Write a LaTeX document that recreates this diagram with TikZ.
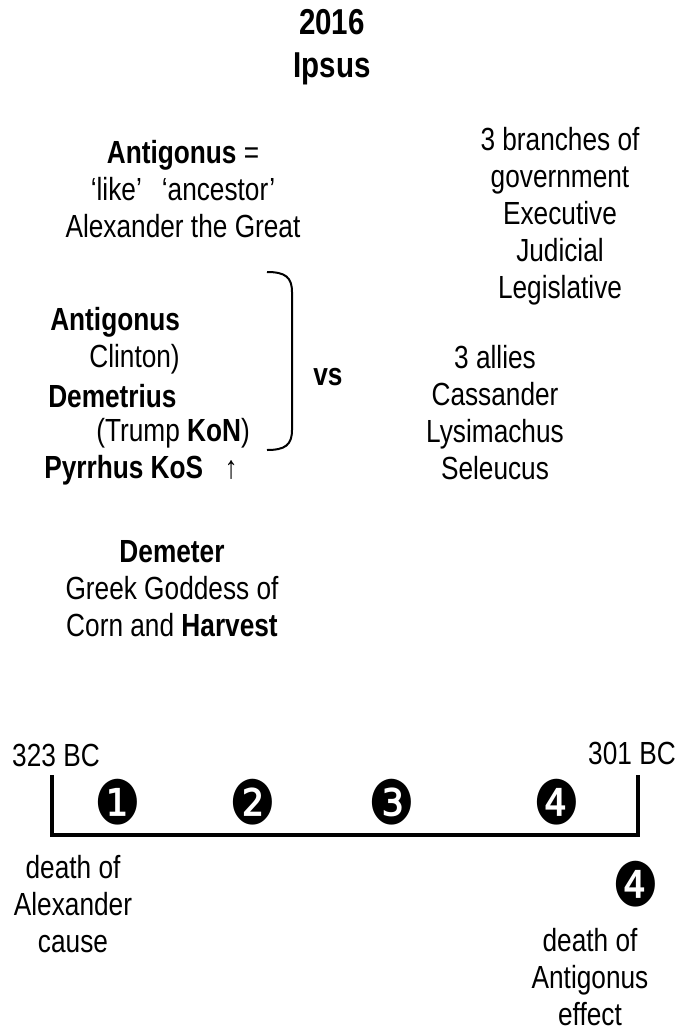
\documentclass[tikz,border=0pt]{standalone}
\usepackage{fontspec}
\setmainfont{Liberation Sans}[FakeStretch=0.82]
\newfontfamily\dingfont{DejaVu Sans}[FakeStretch=0.85]
\tikzset{
  txt/.style={inner sep=0pt, align=center, font=\fontsize{24}{27.75}\selectfont},
  ttl/.style={inner sep=0pt, align=center, font=\fontsize{27}{32.25}\selectfont\bfseries},
  num/.style={inner sep=0pt, font=\fontsize{46}{46}\dingfont},
}
\begin{document}
\begin{tikzpicture}[x=0.75pt,y=0.75pt,yscale=-1]
\useasboundingbox (0,0) rectangle (693,1032);

\draw (332,47) node (title) [ttl] {2016\\Ipsus};

\draw (183,189) node (like) [txt] {\textbf{Antigonus} =\\‘like’\hspace{15pt}‘ancestor’\\Alexander the Great};
\draw (560,216) node (gov) [txt] {3 branches of\\government\\Executive\\Judicial\\Legislative};

\draw (50,322) node (antig) [txt,anchor=west] {\textbf{Antigonus}};
\draw (180,359) node (clint) [txt,anchor=east] {Clinton)};
\draw (48,396) node (demet) [txt,anchor=west] {\textbf{Demetrius}};
\draw (96,433) node (trump) [txt,anchor=west] {(Trump \textbf{KoN})};
\draw (44,470) node (pyrr) [txt,anchor=west] {\textbf{Pyrrhus KoS}\hspace{16pt}↑};

\draw [line width=1.5] (267,272) .. controls (285,272) and (292,277) .. (292,292) -- (292,430) .. controls (292,445) and (285,450) .. (267,450) ;

\draw (328,377) node (vs) [txt] {\textbf{vs}};
\draw (495,413) node (allies) [txt] {3 allies\\Cassander\\Lysimachus\\Seleucus};

\draw (172,589) node (demeter) [txt] {\textbf{Demeter}\\Greek Goddess of\\Corn and \textbf{Harvest}};

\draw (56,755) node (start) [txt] {323 BC};
\draw (632,753) node (stop) [txt] {301 BC};
\draw [line width=3.5, line join=miter] (52,775) -- (52,835) -- (638,835) -- (638,775) ;

\draw (118,802) node (n1) [num] {❶};
\draw (253,802) node (n2) [num] {❷};
\draw (392,802) node (n3) [num] {❸};
\draw (557,802) node (n4) [num] {❹};
\draw (636,884) node (n4b) [num] {❹};

\draw (73,904) node (cause) [txt] {death of\\Alexander\\cause};
\draw (590,977) node (effect) [txt] {death of\\Antigonus\\effect};

\end{tikzpicture}
\end{document}
